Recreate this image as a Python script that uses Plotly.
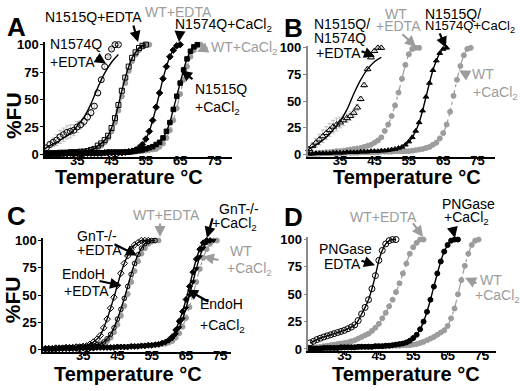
import plotly.graph_objects as go

W, H = 520, 391
GRAY = "#9c9c9c"
ERR_GRAY = "#bdbdbd"
FONT = "Arial, Liberation Sans, sans-serif"

# measured temperatures (deg C)
TEMPS = [24, 25, 26, 27, 28, 29, 30, 31, 32, 33, 34, 35, 36, 37, 38, 39, 40, 41, 42, 43, 44,
         45, 46, 47, 48, 49, 50, 51, 52, 53, 54, 55, 56, 57, 58, 59, 60, 61, 62, 63, 64, 65,
         66, 67, 68, 69, 70, 71, 72, 73, 74]

Y_TICKS = [0, 25, 50, 75, 100]
X_TICKS = [35, 45, 55, 65, 75]

# ---------------- Panel A ----------------
A_N1574Q_EDTA_START = 25
A_N1574Q_EDTA = [4, 6, 9, 11, 13, 16, 18, 20, 21, 22, 25, 27, 30, 34, 38, 44, 56, 68, 80, 89, 96, 100, 100]
A_N1574Q_EDTA_ERR = [1, 2, 3, 4, 5, 6, 6, 6, 6, 5, 5, 4, 4, 3, 3, 2, 2, 2, 2, 1, 1, 1, 1]
A_FIT_N1574Q_T = [25, 27, 29, 31, 33, 35, 37, 39, 41, 43, 45, 47]
A_FIT_N1574Q = [4, 8, 11, 15, 19, 26, 34, 46, 61, 74, 84, 91]
A_N1515Q_EDTA_START = 25
A_N1515Q_EDTA = [0.5, 0.5, 1, 1, 1, 1.5, 1.5, 1.5, 2, 2, 2, 2.5, 2.5,
                 3, 4, 5, 8, 10, 13, 17, 24, 33, 45, 58, 70, 80, 88, 93, 97, 99, 100]
A_WT_EDTA_START = 25
A_WT_EDTA = [0.5, 0.5, 0.5, 1, 1, 1, 1.5, 1.5, 1.5, 2, 2, 2, 2.5, 2.5,
             3, 4, 6, 8, 11, 15, 21, 29, 40, 53, 65, 76, 85, 91, 95, 98, 100, 100]
A_N1574Q_CACL2_START = 25
A_N1574Q_CACL2 = [0.5, 0.5, 0.5, 0.5, 0.5, 0.5, 0.5, 0.5, 1, 1, 1, 1, 1, 1, 1, 1, 1, 1, 1.5, 1.5, 1.5, 1.5, 1.5,
                  1.5, 2, 2.5, 3, 4, 6, 9, 14, 21, 31, 43, 56, 69, 80, 89, 95, 99, 100]
A_N1515Q_CACL2_START = 25
A_N1515Q_CACL2 = [0.5, 0.5, 0.5, 0.5, 0.5, 0.5, 1, 1, 1, 1, 1, 1, 1, 1.5, 1.5, 1.5, 1.5, 1.5, 1.5, 2, 2, 2, 2, 2, 2, 2,
                  2.5, 3, 3.5, 4, 5, 6, 7, 9, 11, 15, 21, 29, 41, 53, 65, 77, 87, 94, 98, 100]
A_WT_CACL2_START = 25
A_WT_CACL2 = [0.5, 0.5, 0.5, 0.5, 0.5, 0.5, 0.5, 1, 1, 1, 1, 1, 1, 1, 1, 1.5, 1.5, 1.5, 1.5, 1.5, 1.5, 2, 2, 2, 2,
              2.5, 2.5, 2.5, 3, 3, 3.5, 4, 4.5,
              5, 7, 10, 15, 22, 31, 42, 55, 68, 80, 89, 95, 99, 100]

# ---------------- Panel B ----------------
B_DM_EDTA_START = 25
B_DM_EDTA = [3, 5, 8, 11, 14, 17, 20, 23, 26, 28, 30, 32, 34, 36, 39, 44, 52, 65, 80, 91, 97, 100, 100]
B_DM_EDTA_ERR = [1, 2, 3, 4, 5, 6, 6, 6, 6, 6, 5, 5, 4, 4, 3, 3, 2, 2, 2, 1, 1, 1, 1]
B_FIT_DM_T = [25, 27, 29, 31, 33, 35, 37, 39, 41, 43, 45, 47]
B_FIT_DM = [3, 7, 11, 16, 23, 31, 42, 57, 70, 80, 87, 91]
B_WT_EDTA_START = 25
B_WT_EDTA = [0.5, 1, 1, 1, 1.5, 1.5, 2, 2, 2.5, 3, 3, 3.5, 4, 4.5, 5, 5.5, 6, 7, 8, 9, 11, 13, 16,
             22, 28, 36, 46, 58, 71, 84, 94, 99, 100, 100]
B_DM_CACL2_START = 25
B_DM_CACL2 = [0.5, 0.5, 0.5, 1, 1, 1, 1, 1, 1.5, 1.5, 1.5, 1.5, 2, 2, 2, 2, 2.5, 2.5, 2.5, 3, 3, 3, 3.5, 3.5, 4, 4.5,
              5, 6, 7, 9, 12, 16, 22, 30, 41, 54, 67, 79, 88, 95, 99, 100]
B_WT_CACL2_START = 25
B_WT_CACL2 = [0.5, 0.5, 0.5, 0.5, 0.5, 1, 1, 1, 1, 1, 1, 1.5, 1.5, 1.5, 1.5, 1.5, 2, 2, 2, 2, 2, 2,
              2.5, 2.5, 2.5, 2.5, 3, 3, 3, 3, 3,
              3.5, 4, 4.5, 5, 6, 7, 9, 11, 15, 20, 28, 40, 55, 70, 83, 93, 99, 100]

# ---------------- Panel C ----------------
C_GNT_EDTA_START = 24
C_GNT_EDTA = [1, 1, 1, 1.5, 1.5, 1.5, 2, 2, 2, 2.5, 2.5, 3, 3.5,
              5, 7, 9.5, 13, 20, 28, 38, 48, 59, 70, 79, 86, 92, 96, 98, 100, 100, 100]
C_ENDOH_EDTA_START = 24
C_ENDOH_EDTA = [1, 1, 1, 1.5, 1.5, 1.5, 2, 2, 2, 2.5, 2.5, 3, 3, 3.5, 4, 4.5,
                5, 7, 10, 14, 20, 28, 37, 47, 58, 69, 79, 87, 93, 97, 99, 100, 100]
C_WT_EDTA_START = 24
C_WT_EDTA = [0.5, 0.5, 0.5, 1, 1, 1, 1, 1.5, 1.5, 1.5, 2, 2, 2, 2.5, 3, 3.5, 4,
             5.5, 8, 11, 16, 23, 31, 40, 51, 62, 72, 81, 88, 93, 97, 99, 100, 100]
C_GNT_CACL2_START = 24
C_GNT_CACL2 = [0.5, 0.5, 0.5, 0.5, 1, 1, 1, 1, 1, 1, 1.5, 1.5, 1.5, 1.5, 1.5, 2, 2, 2, 2, 2, 2,
               2.5, 2.5, 2.5, 2.5, 3, 3, 3, 3.5, 3.5, 4, 4, 4.5, 5,
               6, 7, 9, 12, 18, 26, 35, 46, 58, 71, 83, 92, 98, 100, 100]
C_ENDOH_CACL2_START = 24
C_ENDOH_CACL2 = [0.5, 0.5, 0.5, 0.5, 1, 1, 1, 1, 1, 1, 1.5, 1.5, 1.5, 1.5, 1.5, 2, 2, 2, 2, 2, 2,
                 2.5, 2.5, 2.5, 2.5, 3, 3, 3, 3.5, 3.5, 4, 4, 4.5, 5, 5.5,
                 6.5, 8, 10, 14, 20, 28, 38, 50, 62, 74, 85, 93, 98, 100, 100]
C_WT_CACL2_START = 24
C_WT_CACL2 = [0.5, 0.5, 0.5, 0.5, 1, 1, 1, 1, 1, 1, 1.5, 1.5, 1.5, 1.5, 1.5, 2, 2, 2, 2, 2, 2,
              2.5, 2.5, 2.5, 2.5, 3, 3, 3, 3.5, 3.5, 4, 4, 4.5, 4.5, 5,
              5.5, 6.5, 8, 11, 15, 21, 29, 39, 50, 62, 74, 84, 92, 97, 100, 100]

# ---------------- Panel D ----------------
D_PNG_EDTA_START = 25
D_PNG_EDTA = [5.6, 7, 8.6, 9.8, 11, 12, 13, 14, 15, 16, 17, 18.5, 20, 22, 26, 32, 38, 45, 55, 67,
              81, 90, 96, 99, 100, 100]
D_WT_EDTA_START = 25
D_WT_EDTA = [0.5, 1, 1.5, 2, 2.5, 3, 3.5, 4, 4.5, 5, 5.5, 6, 7, 8, 9.5, 11, 12.5, 14, 16.5, 19.5,
             23, 28, 33, 39, 45, 52, 60, 69, 78, 87, 93, 97, 100, 100]
D_PNG_CACL2_START = 25
D_PNG_CACL2 = [0.5, 0.5, 0.5, 0.5, 1, 1, 1, 1, 1, 1.5, 1.5, 1.5, 1.5, 1.5, 2, 2, 2, 2, 2, 2.5, 2.5,
               2.5, 3, 3, 3.5, 4, 4.5, 5, 6, 7.5, 10, 13, 18, 25, 34, 45, 57, 69, 80, 89, 95, 99, 100, 100]
D_WT_CACL2_START = 25
D_WT_CACL2 = [0.5, 0.5, 0.5, 0.5, 0.5, 1, 1, 1, 1, 1, 1.5, 1.5, 1.5, 1.5, 1.5, 2, 2, 2, 2, 2.5, 2.5,
              2.5, 2.5, 3, 3, 3, 3, 3.5, 3.5, 3.5, 4,
              4.5, 5.5, 6.5, 8, 9.5, 11, 13, 15, 17, 21, 28, 37, 50, 63, 76, 87, 95, 99, 100]


def temps_from(start, vals):
    i = TEMPS.index(start)
    return TEMPS[i:i + len(vals)]


fig = go.Figure()

AX = {"A": ("x", "y"), "B": ("x2", "y2"), "C": ("x3", "y3"), "D": ("x4", "y4")}


def add(panel, start, vals, symbol, color, size, line=True, dash="solid", lw=1.4, err=None):
    xa, ya = AX[panel]
    kw = {}
    if err is not None:
        kw["error_y"] = dict(type="data", array=err, color=ERR_GRAY, thickness=1, width=2)
    fig.add_trace(go.Scatter(
        x=temps_from(start, vals), y=vals, xaxis=xa, yaxis=ya,
        mode=("lines+markers" if line else "markers"),
        marker=dict(symbol=symbol, size=size, color=color, line=dict(width=1, color=color)),
        line=dict(color=color, width=lw, dash=dash, shape="spline", smoothing=0.6),
        showlegend=False, cliponaxis=False, hoverinfo="skip", **kw))


def add_line(panel, xs, vals, color="black", lw=1.4, dash="solid"):
    xa, ya = AX[panel]
    fig.add_trace(go.Scatter(x=xs, y=vals, xaxis=xa, yaxis=ya, mode="lines",
                             line=dict(color=color, width=lw, dash=dash, shape="spline"),
                             showlegend=False, cliponaxis=False, hoverinfo="skip"))


# Panel A
add("A", A_WT_EDTA_START, A_WT_EDTA, "circle", GRAY, 5, dash="dashdot", lw=1.2)
add("A", A_WT_CACL2_START, A_WT_CACL2, "circle", GRAY, 5, dash="dashdot", lw=1.2)
add("A", A_N1574Q_EDTA_START, A_N1574Q_EDTA, "circle-open", "black", 6, line=False, err=A_N1574Q_EDTA_ERR)
add_line("A", A_FIT_N1574Q_T, A_FIT_N1574Q)
add("A", A_N1515Q_EDTA_START, A_N1515Q_EDTA, "square-open", "black", 5)
add("A", A_N1574Q_CACL2_START, A_N1574Q_CACL2, "diamond", "black", 5)
add("A", A_N1515Q_CACL2_START, A_N1515Q_CACL2, "square", "black", 4.5)

# Panel B
add("B", B_WT_EDTA_START, B_WT_EDTA, "circle", GRAY, 5, dash="dashdot", lw=1.2)
add("B", B_WT_CACL2_START, B_WT_CACL2, "circle", GRAY, 5, dash="dashdot", lw=1.2)
add("B", B_DM_EDTA_START, B_DM_EDTA, "triangle-up-open", "black", 6, line=False, err=B_DM_EDTA_ERR)
add_line("B", B_FIT_DM_T, B_FIT_DM)
add("B", B_DM_CACL2_START, B_DM_CACL2, "triangle-up", "black", 5)

# Panel C
add("C", C_WT_EDTA_START, C_WT_EDTA, "circle", GRAY, 5, dash="dashdot", lw=1.2)
add("C", C_WT_CACL2_START, C_WT_CACL2, "circle", GRAY, 5, dash="dashdot", lw=1.2)
add("C", C_GNT_EDTA_START, C_GNT_EDTA, "diamond-open", "black", 5)
add("C", C_ENDOH_EDTA_START, C_ENDOH_EDTA, "circle-open", "black", 4.5)
add("C", C_GNT_CACL2_START, C_GNT_CACL2, "diamond", "black", 4.5)
add("C", C_ENDOH_CACL2_START, C_ENDOH_CACL2, "triangle-down", "black", 4.5)

# Panel D
add("D", D_WT_EDTA_START, D_WT_EDTA, "circle", GRAY, 5, dash="dashdot", lw=1.2)
add("D", D_WT_CACL2_START, D_WT_CACL2, "circle", GRAY, 5, dash="dashdot", lw=1.2)
add("D", D_PNG_EDTA_START, D_PNG_EDTA, "circle-open", "black", 6)
add("D", D_PNG_CACL2_START, D_PNG_CACL2, "circle", "black", 5)


def dx(p0, p1):
    return [p0 / W, p1 / W]


def dy(top, bottom):
    return [1 - bottom / H, 1 - top / H]


tickfont = dict(family=FONT, size=13, color="black", weight="bold")


def xaxis(domain, rng, anchor):
    return dict(domain=domain, range=rng, anchor=anchor, showline=True, linecolor="black",
                linewidth=1.5, ticks="outside", ticklen=2, tickwidth=1.2, tickcolor="black",
                ticklabelstandoff=-11,
                tickvals=X_TICKS, tickfont=tickfont, showgrid=False, zeroline=False)


def yaxis(domain, rng, anchor, color):
    return dict(domain=domain, range=rng, anchor=anchor, showline=True, linecolor=color,
                linewidth=1.5, ticks="outside", ticklen=3, tickwidth=1.2, tickcolor=color,
                ticklabelstandoff=-1,
                tickvals=Y_TICKS, tickfont=tickfont, showgrid=False, zeroline=False)


fig.update_layout(
    width=W, height=H, margin=dict(l=0, r=0, t=0, b=0),
    paper_bgcolor="white", plot_bgcolor="white",
    xaxis=xaxis(dx(45, 231.6), [25.6, 80], "y"),
    yaxis=yaxis(dy(38.45, 155.55), [-2, 102], "x", "black"),
    xaxis2=xaxis(dx(307.7, 494.8), [25.6, 80], "y2"),
    yaxis2=yaxis(dy(41.8, 155.5), [-2, 102], "x2", "#8a8a8a"),
    xaxis3=xaxis(dx(43, 230.6), [23.3, 78], "y3"),
    yaxis3=yaxis(dy(239.46, 355.94), [-2, 102], "x3", "black"),
    xaxis4=xaxis(dx(308.3, 495.8), [24.5, 79], "y4"),
    yaxis4=yaxis(dy(238.45, 355.25), [-2, 102], "x4", "#8a8a8a"),
)

ann = []


def text(s, x, y, color="black", size=14, anchor="left", bold=False, angle=0):
    ann.append(dict(text=s, x=x / W, y=1 - y / H, xref="paper", yref="paper", showarrow=False,
                    xanchor=anchor, yanchor="middle", textangle=angle,
                    font=dict(family=FONT, size=size, color=color, weight=("bold" if bold else "normal"))))


def arrow(hx, hy, tx, ty, color="black"):
    ann.append(dict(text="", x=hx / W, y=1 - hy / H, xref="paper", yref="paper", showarrow=True,
                    ax=tx - hx, ay=ty - hy, axref="pixel", ayref="pixel",
                    arrowhead=2, arrowsize=1.0, arrowwidth=2.2, arrowcolor=color))


# panel letters
for L, x, y in [("A", 16, 23), ("B", 293, 24), ("C", 16, 217), ("D", 293, 218)]:
    text(L, x, y, size=26, anchor="center", bold=True)

# axis titles
for x, y in [(129, 177), (407, 177), (128, 379), (406, 379)]:
    text("Temperature °C", x, y, size=20, anchor="center", bold=True)
text("%FU", 13, 114, size=21, anchor="center", bold=True, angle=-90)
text("%FU", 12, 303, size=21, anchor="center", bold=True, angle=-90)

CA = "+CaCl<sub>2</sub>"
# Panel A labels
text("N1515Q+EDTA", 43, 12)
arrow(138, 38, 133, 20)
text("WT+EDTA", 143, 7, color=GRAY)
text("N1574Q" + CA, 173, 21)
arrow(179, 38, 180, 27)
text("N1574Q", 48, 40)
text("+EDTA", 48, 58)
arrow(106, 60, 95, 53)
text("WT" + CA, 209, 44, color=GRAY)
arrow(197, 48, 209, 43, color=GRAY)
text("N1515Q", 193, 86)
text(CA, 193, 106)
arrow(181, 67, 194, 77)

# Panel B labels
text("N1515Q/", 312, 20)
text("N1574Q", 312, 34)
text("+EDTA", 314, 49)
arrow(375, 53, 360, 47)
text("WT", 396, 9, color=GRAY, anchor="center")
text("+EDTA", 398, 22, color=GRAY, anchor="center")
arrow(416, 43, 401, 29, color=GRAY)
text("N1515Q/", 423, 9)
text("N1574Q" + CA, 423, 22, size=13)
arrow(446, 44, 439, 28)
text("WT", 470, 71, color=GRAY)
text(CA, 471, 90, color=GRAY)
arrow(459, 67, 470, 73, color=GRAY)

# Panel C labels
text("WT+EDTA", 166, 216, color=GRAY, anchor="center")
arrow(160, 238, 160, 223, color=GRAY)
text("GnT-/-", 75, 237)
text("+EDTA", 75, 251)
arrow(137, 257, 113, 245)
text("EndoH", 60, 276)
text("+EDTA", 62, 294)
arrow(121, 288, 98, 283)
text("GnT-/-", 217, 209)
text(CA, 210, 225)
arrow(207, 239, 213, 218)
text("WT", 228, 252, color=GRAY)
text(CA, 225, 271, color=GRAY)
arrow(203, 258, 220, 262, color=GRAY)
text("EndoH", 198, 307)
text(CA, 198, 329)
arrow(187, 292, 210, 305)

# Panel D labels
text("WT+EDTA", 383, 218, color=GRAY, anchor="center")
arrow(423, 238, 412, 223, color=GRAY)
text("PNGase", 440, 204)
text(CA, 442, 219)
arrow(455, 239, 452, 227)
text("PNGase", 317, 250)
text("EDTA", 322, 266)
arrow(375, 267, 360, 262)
text("WT", 478, 282, color=GRAY)
text(CA, 473, 299, color=GRAY)
arrow(465, 280, 478, 286, color=GRAY)

fig.update_layout(annotations=ann)
fig.write_html("out.html", config={"displayModeBar": False},
               post_script="document.body.style.margin='0';")
